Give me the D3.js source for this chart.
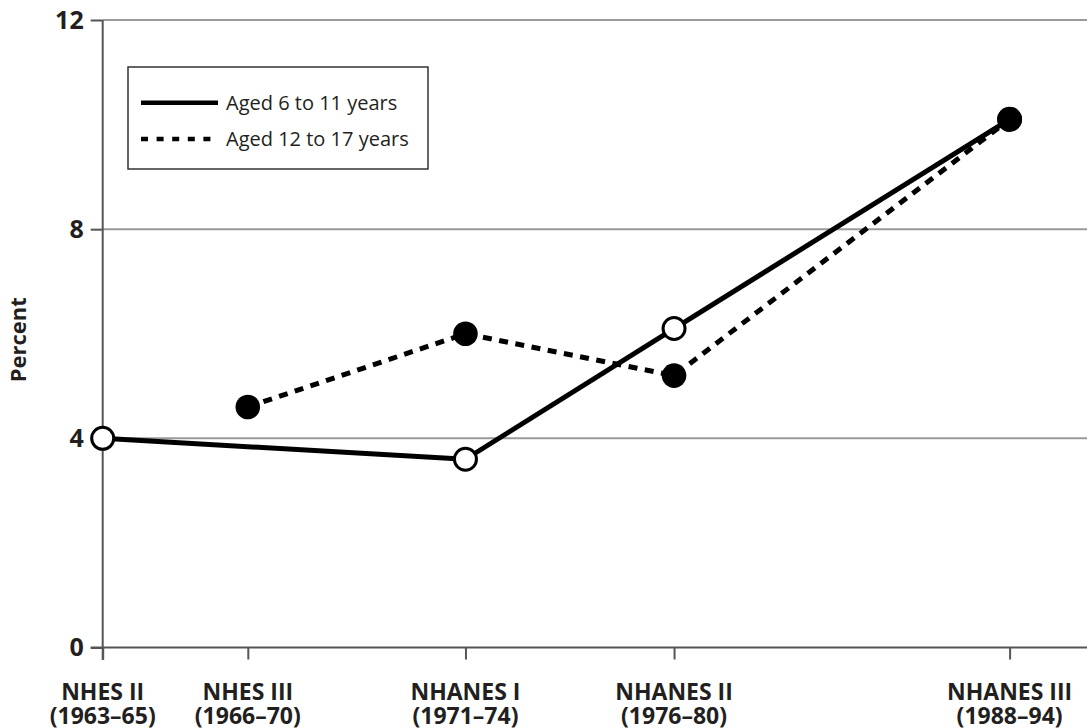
<!DOCTYPE html>
<html>
<head>
<meta charset="utf-8">
<script src="https://cdn.jsdelivr.net/npm/d3@7"></script>
<style>
  html, body { margin: 0; padding: 0; background: #fff; }
  svg { display: block; }
  text { font-family: "Open Sans", "DejaVu Sans", sans-serif; fill: #231f20; }
</style>
</head>
<body>
<svg id="chart" width="1087" height="728"></svg>
<script>
// ---- data ----
const surveys = ["NHES II", "NHES III", "NHANES I", "NHANES II", "NHANES III"];
const surveyYears = ["(1963\u201365)", "(1966\u201370)", "(1971\u201374)", "(1976\u201380)", "(1988\u201394)"];
// position of each survey along the (non-uniform) horizontal axis, arbitrary units 0..10
const surveyAxisPos = [0, 1.6, 4.0, 6.3, 10];
const seriesNames = ["Aged 6 to 11 years", "Aged 12 to 17 years"];
const aged6to11 = [4.0, null, 3.6, 6.1, 10.1];
const aged12to17 = [null, 4.6, 6.0, 5.2, 10.1];
const yTicks = [0, 4, 8, 12];

// ---- layout ----
const svg = d3.select("#chart");
const W = 1087, H = 728;
const x0 = 102.7, x1 = 1009.6;
const yBottom = 647.5, yTop = 20;

const x = d3.scaleLinear().domain([0, 10]).range([x0, x1]);
const y = d3.scaleLinear().domain([0, 12]).range([yBottom, yTop]);

const gridColor = "#9a9a9a";
const axisColor = "#555";

const yAxis = d3.axisLeft(y).tickValues(yTicks).tickSize(12).tickPadding(7).tickFormat(d3.format("d"));
const gy = svg.append("g").attr("transform", `translate(${x0},0)`).call(yAxis);
gy.select(".domain").remove();
gy.selectAll(".tick line").attr("stroke", axisColor).attr("stroke-width", 2);
gy.selectAll(".tick text")
  .style("font-size", "25px").style("font-weight", "700")
  .attr("fill", "#231f20");

svg.append("g").selectAll("line.grid")
  .data(yTicks.filter(d => d > 0))
  .join("line")
  .attr("x1", x0).attr("x2", W)
  .attr("y1", d => y(d)).attr("y2", d => y(d))
  .attr("stroke", gridColor).attr("stroke-width", 2);

svg.append("line")
  .attr("x1", x0 - 12).attr("x2", W)
  .attr("y1", y(0)).attr("y2", y(0))
  .attr("stroke", axisColor).attr("stroke-width", 2);

svg.append("line")
  .attr("x1", x0).attr("x2", x0)
  .attr("y1", yTop).attr("y2", y(0) + 12.5)
  .attr("stroke", axisColor).attr("stroke-width", 2);

const xAxis = d3.axisBottom(x).tickValues(surveyAxisPos).tickSize(12).tickFormat("");
const gx = svg.append("g").attr("transform", `translate(0,${y(0)})`).call(xAxis);
gx.select(".domain").remove();
gx.selectAll(".tick line").attr("stroke", axisColor).attr("stroke-width", 2);

const xl = svg.append("g").selectAll("text")
  .data(surveys)
  .join("text")
  .attr("text-anchor", "middle")
  .style("font-size", "23px").style("font-weight", "700");
xl.append("tspan")
  .attr("x", (d, i) => x(surveyAxisPos[i]))
  .attr("y", 700)
  .text(d => d);
xl.append("tspan")
  .attr("x", (d, i) => x(surveyAxisPos[i]))
  .attr("y", 724)
  .text((d, i) => surveyYears[i]);

svg.append("text")
  .attr("transform", `translate(26,${(yTop + yBottom) / 2 + 6}) rotate(-90)`)
  .attr("text-anchor", "middle")
  .style("font-size", "22px").style("font-weight", "700")
  .text("Percent");

// ---- series ----
const pts = (vals) => vals.map((v, i) => ({ x: surveyAxisPos[i], v })).filter(d => d.v !== null);
const line = d3.line().x(d => x(d.x)).y(d => y(d.v));

const s1 = pts(aged6to11), s2 = pts(aged12to17);

svg.append("path").datum(s1).attr("d", line)
  .attr("fill", "none").attr("stroke", "#000").attr("stroke-width", 5)
  .attr("stroke-linejoin", "round");

svg.append("path").datum(s2).attr("d", line)
  .attr("fill", "none").attr("stroke", "#000").attr("stroke-width", 5)
  .attr("stroke-dasharray", "9,7.5");

svg.append("g").selectAll("circle")
  .data(s1).join("circle")
  .attr("cx", d => x(d.x)).attr("cy", d => y(d.v)).attr("r", 11)
  .attr("fill", "#fff").attr("stroke", "#000").attr("stroke-width", 3);

svg.append("g").selectAll("circle")
  .data(s2).join("circle")
  .attr("cx", d => x(d.x)).attr("cy", d => y(d.v)).attr("r", 12.3)
  .attr("fill", "#000");

// ---- legend ----
const lg = svg.append("g");
lg.append("rect")
  .attr("x", 128).attr("y", 67).attr("width", 300).attr("height", 102)
  .attr("fill", "#fff").attr("stroke", "#333").attr("stroke-width", 1.5);
const legendRows = [
  { name: seriesNames[0], dash: null, yy: 102.7 },
  { name: seriesNames[1], dash: "7,8.6", yy: 139 }
];
legendRows.forEach(r => {
  lg.append("line")
    .attr("x1", 141).attr("x2", 218).attr("y1", r.yy).attr("y2", r.yy)
    .attr("stroke", "#000").attr("stroke-width", 4.5)
    .attr("stroke-dasharray", r.dash);
  lg.append("text")
    .attr("x", 226).attr("y", r.yy).attr("dy", "0.35em")
    .style("font-size", "20px")
    .text(r.name);
});
</script>
</body>
</html>
